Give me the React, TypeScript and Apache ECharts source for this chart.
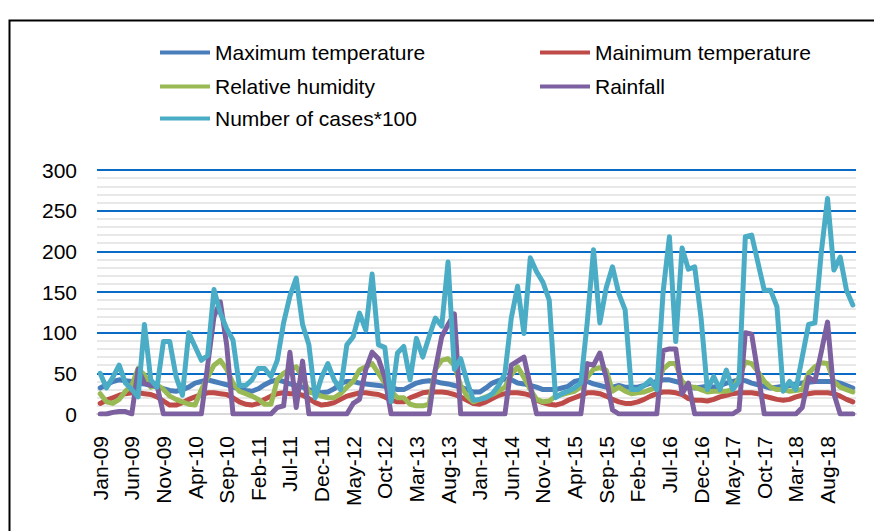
import React, { useEffect, useRef } from "react";
import * as echarts from "echarts";

const monthNames = ["Jan", "Feb", "Mar", "Apr", "May", "Jun", "Jul", "Aug", "Sep", "Oct", "Nov", "Dec"];
const years = ["09", "10", "11", "12", "13", "14", "15", "16", "17", "18"];
const categories: string[] = [];
years.forEach((y) => monthNames.forEach((m) => categories.push(`${m}-${y}`)));

const yTicks = [0, 50, 100, 150, 200, 250, 300];

const maxTemp = [
  32, 36, 40, 42, 41, 40, 38, 37, 35, 33, 31, 29,
  28, 30, 33, 38, 40, 42, 40, 38, 36, 33, 31, 29,
  28, 31, 36, 40, 42, 40, 37, 35, 33, 30, 28, 26,
  27, 31, 38, 40, 40, 38, 37, 36, 35, 34, 33, 30,
  30, 34, 38, 40, 41, 40, 38, 37, 35, 33, 30, 27,
  27, 32, 38, 41, 43, 42, 38, 37, 35, 33, 30, 30,
  30, 32, 34, 40, 42, 40, 37, 35, 33, 33, 35, 33,
  33, 33, 35, 38, 40, 42, 42, 40, 38, 34, 32, 33,
  34, 33, 35, 38, 40, 42, 41, 38, 36, 34, 32, 33,
  34, 35, 37, 38, 39, 40, 40, 40, 40, 38, 35, 32,
];

const minTemp = [
  13, 17, 20, 23, 25, 26, 26, 25, 24, 21, 16, 11,
  11, 14, 18, 21, 24, 26, 26, 25, 24, 20, 15, 12,
  11, 13, 18, 22, 25, 26, 25, 25, 23, 19, 14, 11,
  12, 14, 18, 22, 24, 26, 26, 25, 24, 21, 17, 15,
  15, 20, 23, 26, 27, 27, 27, 26, 24, 21, 17, 13,
  12, 15, 19, 23, 25, 26, 26, 25, 23, 17, 14, 12,
  11, 13, 17, 20, 23, 26, 26, 25, 22, 18, 15, 13,
  13, 15, 18, 22, 25, 27, 27, 26, 24, 19, 17, 17,
  16, 18, 21, 23, 25, 26, 26, 26, 25, 22, 20, 18,
  17, 18, 21, 23, 25, 26, 26, 26, 25, 22, 18, 15,
];

const humidity = [
  25, 15, 13, 18, 28, 35, 56, 48, 33, 36, 30, 22,
  18, 15, 12, 11, 30, 45, 60, 66, 55, 38, 28, 25,
  22, 18, 12, 12, 42, 50, 55, 58, 45, 27, 25, 22,
  20, 20, 25, 33, 40, 54, 58, 62, 50, 38, 28, 20,
  20, 12, 10, 10, 12, 55, 66, 68, 60, 35, 22, 15,
  18, 21, 24, 28, 33, 48, 58, 45, 30, 18, 15, 16,
  22, 24, 26, 28, 33, 45, 55, 57, 54, 28, 33, 28,
  25, 26, 27, 30, 33, 55, 62, 62, 40, 33, 33, 30,
  27, 28, 28, 28, 30, 45, 64, 62, 52, 40, 33, 30,
  30, 28, 29, 30, 50, 58, 63, 62, 40, 33, 30, 27,
];

const rainfall = [
  0, 0, 2, 3, 3, 0, 55, 38, 35, 35, 0, 0,
  0, 0, 0, 0, 0, 60, 120, 138, 85, 0, 0, 0,
  0, 0, 0, 0, 8, 10, 76, 8, 65, 0, 0, 0,
  0, 0, 0, 0, 13, 18, 55, 76, 68, 45, 0, 0,
  0, 0, 0, 0, 0, 55, 95, 110, 123, 0, 0, 0,
  0, 0, 0, 0, 0, 60, 65, 70, 35, 0, 0, 0,
  0, 0, 0, 0, 0, 62, 60, 75, 45, 5, 0, 0,
  0, 0, 0, 0, 0, 78, 80, 80, 25, 38, 0, 0,
  0, 0, 0, 0, 0, 5, 100, 98, 50, 0, 0, 0,
  0, 0, 0, 8, 45, 40, 76, 113, 25, 0, 0, 0,
];

const cases = [
  50, 32, 45, 60, 38, 30, 21, 110, 42, 33, 89, 89,
  46, 23, 100, 83, 66, 72, 153, 124, 105, 91, 35, 35,
  42, 56, 56, 46, 66, 112, 145, 167, 110, 85, 20, 45,
  62, 42, 30, 85, 95, 124, 103, 172, 85, 82, 15, 75,
  83, 42, 93, 70, 95, 118, 108, 187, 55, 68, 40, 17,
  18, 20, 25, 35, 50, 118, 157, 99, 192, 175, 162, 140,
  20, 25, 28, 32, 38, 112, 202, 112, 155, 181, 148, 128,
  30, 30, 35, 42, 30, 150, 218, 89, 204, 178, 181, 118,
  30, 46, 30, 54, 30, 40, 218, 220, 186, 152, 152, 132,
  28, 40, 30, 70, 110, 112, 198, 265, 177, 193, 152, 134,
];

const seriesNames = [
  "Maximum temperature",
  "Mainimum temperature",
  "Relative humidity",
  "Rainfall",
  "Number of cases*100",
];
const seriesColors = ["#4A7EBB", "#BE4B48", "#98B954", "#7D60A0", "#4BACC6"];
const seriesData = [maxTemp, minTemp, humidity, rainfall, cases];

const FONT = "'Liberation Sans', Arial, sans-serif";

export default function App() {
  const ref = useRef<HTMLDivElement>(null);
  useEffect(() => {
    if (!ref.current) return;
    const chart = echarts.init(ref.current, undefined, { renderer: "svg" });
    const legendPos = [
      { left: 160, top: 42 },
      { left: 540, top: 42 },
      { left: 160, top: 76 },
      { left: 540, top: 76 },
      { left: 160, top: 108 },
    ];
    chart.setOption({
      animation: false,
      backgroundColor: "#ffffff",
      textStyle: { fontFamily: FONT },
      graphic: [
        {
          type: "rect",
          left: 7,
          top: 18,
          shape: { x: 0, y: 0, width: 900, height: 540 },
          style: { fill: "none", stroke: "#000000", lineWidth: 2 },
          silent: true,
        },
      ],
      legend: seriesNames.map((name, i) => ({
        data: [name],
        left: legendPos[i].left,
        top: legendPos[i].top,
        padding: 0,
        icon: "rect",
        itemWidth: 50,
        itemHeight: 4,
        textStyle: { fontSize: 21, color: "#000", fontFamily: FONT, padding: [0, 0, 0, 0] },
        selectedMode: false,
      })),
      grid: { left: 97, right: 18, top: 170, bottom: 117, containLabel: false },
      xAxis: {
        type: "category",
        data: categories,
        boundaryGap: true,
        axisLine: { lineStyle: { color: "#D9D9D9", width: 2 } },
        axisTick: { interval: 4, length: 6, lineStyle: { color: "#D9D9D9", width: 2 } },
        axisLabel: {
          interval: 4,
          rotate: 90,
          margin: 22,
          fontSize: 21,
          color: "#000",
          fontFamily: FONT,
        },
      },
      yAxis: {
        type: "value",
        min: yTicks[0],
        max: yTicks[yTicks.length - 1],
        interval: 50,
        axisLine: { show: false },
        axisTick: { show: false },
        axisLabel: { fontSize: 21, color: "#000", margin: 20, fontFamily: FONT },
        splitLine: { lineStyle: { color: "#0B6BC4", width: 2 } },
        minorTick: { show: false, splitNumber: 5 },
        minorSplitLine: { show: true, lineStyle: { color: "#E8E8E8", width: 2 } },
      },
      series: seriesNames.map((name, i) => ({
        name,
        type: "line",
        data: seriesData[i],
        symbol: "none",
        smooth: false,
        lineStyle: { color: seriesColors[i], width: 5, join: "round", cap: "round" },
        itemStyle: { color: seriesColors[i] },
        z: 2 + i,
      })),
    });
    return () => chart.dispose();
  }, []);
  return (
    <div
      ref={ref}
      style={{ position: "fixed", left: 0, top: 0, width: 874, height: 531, background: "#fff" }}
    />
  );
}
